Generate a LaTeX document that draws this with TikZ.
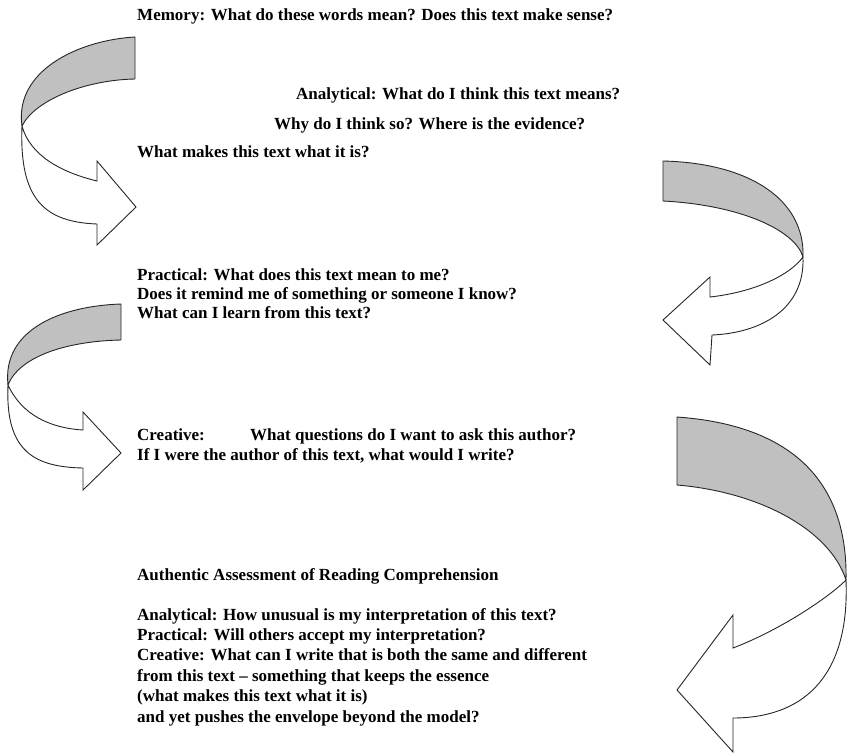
\documentclass[tikz,border=0pt]{standalone}
\usepackage{fontspec}
\setmainfont{Liberation Serif}
\begin{document}
\begin{tikzpicture}[x=1pt,y=-1pt,
  txt/.style={anchor=base west, inner sep=0pt, align=left,
    font=\fontsize{17}{20}\selectfont\bfseries},
  band/.style={draw=black!85, line width=0.9pt, line join=round, fill={rgb,255:red,192;green,192;blue,192}},
  face/.style={draw=black!85, line width=0.9pt, line join=miter, fill=white}]
\useasboundingbox (0,0) rectangle (850,755);

% ---- arrow 1: top left, turning right ----
\path[face] (22,126) .. controls (19,200) and (45,222) .. (97,224)
  -- (97,245) -- (136,207) -- (97,161) -- (97,181)
  .. controls (60,172) and (30,155) .. (22,126) -- cycle;
\path[band] (135,37) -- (135,79)
  .. controls (85,80) and (35,100) .. (22,126)
  .. controls (14,70) and (80,40) .. (135,37) -- cycle;

% ---- arrow 2: top right, turning left ----
\path[face] (803,257) .. controls (805,310) and (760,333) .. (712,335)
  -- (710,365) -- (663,320) -- (710,277) -- (710,297)
  .. controls (755,292) and (790,275) .. (803,257) -- cycle;
\path[band] (663,161) -- (663,201)
  .. controls (740,205) and (795,230) .. (803,257)
  .. controls (805,200) and (750,163) .. (663,161) -- cycle;

% ---- arrow 3: middle left, turning right ----
\path[face] (8,385) .. controls (5,452) and (35,467) .. (83,468)
  -- (83,490) -- (121,453) -- (83,412) -- (83,430)
  .. controls (50,428) and (22,415) .. (8,385) -- cycle;
\path[band] (121,304) -- (121,340)
  .. controls (70,341) and (20,355) .. (8,385)
  .. controls (2,330) and (60,306) .. (121,304) -- cycle;

% ---- arrow 4: bottom right, turning left ----
\path[face] (846,580) .. controls (850,680) and (800,718) .. (733,718)
  -- (733,752) -- (677,690) -- (733,615) -- (733,648)
  .. controls (780,630) and (828,598) .. (846,580) -- cycle;
\path[band] (677,417) -- (677,485)
  .. controls (760,492) and (830,530) .. (846,580)
  .. controls (848,480) and (790,425) .. (677,417) -- cycle;

% ---- texts (multi-line nodes sit on the baseline of their last line) ----
\node[txt] (memory) at (137,20) {Memory: What do these words mean? Does this text make sense?};
\node[txt] (anal) at (296,99) {Analytical: What do I think this text means?};
\node[txt] (why) at (274,129) {Why do I think so? Where is the evidence?};
\node[txt] (makes) at (137,157) {What makes this text what it is?};
\node[txt, font=\fontsize{17}{19}\selectfont\bfseries] (prac) at (137,318)
  {Practical: What does this text mean to me?\\
   Does it remind me of something or someone I know?\\
   What can I learn from this text?};
\node[txt] (creat) at (137,460)
  {\makebox[113pt][l]{Creative:}What questions do I want to ask this author?\\
   If I were the author of this text, what would I write?};
\node[txt] (auth) at (137,580) {Authentic Assessment of Reading Comprehension};
\node[txt, font=\fontsize{17}{20.4}\selectfont\bfseries] (assess) at (137,722)
  {Analytical: How unusual is my interpretation of this text?\\
   Practical: Will others accept my interpretation?\\
   Creative: What can I write that is both the same and different\\
   from this text -- something that keeps the essence\\
   (what makes this text what it is)\\
   and yet pushes the envelope beyond the model?};
\end{tikzpicture}
\end{document}
